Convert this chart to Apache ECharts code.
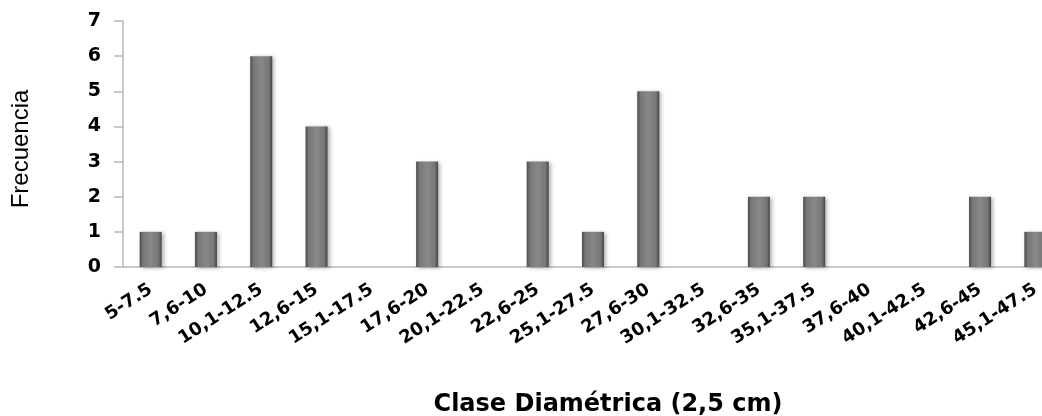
<!DOCTYPE html>
<html>
<head>
<meta charset="utf-8">
<script src="https://cdn.jsdelivr.net/npm/echarts@6/dist/echarts.min.js"></script>
<style>
html, body { margin: 0; padding: 0; background: #fff; overflow: hidden; }
/* el grafico original queda cortado a la derecha */
#chart { width: 1063px; height: 416px; }
</style>
</head>
<body>
<div id="chart"></div>
<script>
// clases diametricas y frecuencias
var clases = ['5-7.5', '7,6-10', '10,1-12.5', '12,6-15', '15,1-17.5', '17,6-20', '20,1-22.5', '22,6-25',
	'25,1-27.5', '27,6-30', '30,1-32.5', '32,6-35', '35,1-37.5', '37,6-40', '40,1-42.5', '42,6-45', '45,1-47.5'];
var frecuencia = [1, 1, 6, 4, 0, 3, 0, 3, 1, 5, 0, 2, 2, 0, 0, 2, 1];
var yTicks = [0, 7, 1]; // min, max, intervalo

var chart = echarts.init(document.getElementById('chart'));
var option = {
	backgroundColor: '#fff',
	animation: false,
	grid: { left: 123, right: 0, top: 21, bottom: 149, outerBoundsMode: 'none', containLabel: false },
	xAxis: {
		type: 'category',
		data: clases,
		name: 'Clase Diamétrica (2,5 cm)',
		nameLocation: 'middle',
		nameGap: 126,
		nameTextStyle: {
			fontFamily: 'DejaVu Sans',
			fontWeight: 'bold',
			fontSize: 24,
			color: '#000',
			padding: [0, 0, 0, 30]
		},
		axisLine: { lineStyle: { color: '#b8b8b8', width: 1.5 } },
		axisTick: { show: false },
		axisLabel: {
			interval: 0,
			rotate: 33,
			margin: 21,
			fontFamily: 'DejaVu Sans',
			fontWeight: 'bold',
			fontSize: 18,
			color: '#000'
		}
	},
	yAxis: {
		type: 'value',
		min: yTicks[0],
		max: yTicks[1],
		interval: yTicks[2],
		name: 'Frecuencia',
		nameLocation: 'middle',
		nameGap: 90,
		nameRotate: 90,
		nameTextStyle: {
			fontFamily: 'Liberation Sans',
			fontSize: 24,
			color: '#000',
			padding: [0, 10, 0, 0]
		},
		axisLine: { show: true, lineStyle: { color: '#b8b8b8', width: 1.5 } },
		axisTick: { show: true, length: 9, lineStyle: { color: '#b8b8b8', width: 1.5 } },
		splitLine: { show: false },
		axisLabel: {
			margin: 22,
			fontFamily: 'DejaVu Sans',
			fontWeight: 'bold',
			fontSize: 19,
			color: '#000'
		}
	},
	series: [{
		type: 'bar',
		data: frecuencia,
		barWidth: 22,
		itemStyle: {
			color: {
				type: 'linear', x: 0, y: 0, x2: 1, y2: 0,
				colorStops: [
					{ offset: 0, color: '#4a4a4a' },
					{ offset: 0.15, color: '#777' },
					{ offset: 0.5, color: '#888' },
					{ offset: 0.85, color: '#777' },
					{ offset: 1, color: '#444' }
				]
			},
			shadowColor: 'rgba(0,0,0,0.3)',
			shadowBlur: 4,
			shadowOffsetX: 2,
			shadowOffsetY: 1
		}
	}]
};
chart.setOption(option);
</script>
</body>
</html>
